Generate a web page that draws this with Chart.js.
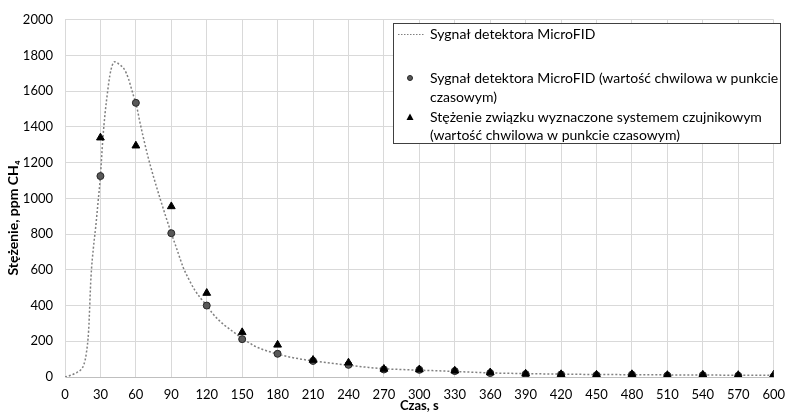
<!DOCTYPE html>
<html>
<head>
<meta charset="utf-8">
<script src="https://cdn.jsdelivr.net/npm/chart.js@4.4.1/dist/chart.umd.min.js"></script>
<style>
  html, body { margin: 0; padding: 0; background: #fff; }
  #wrap { width: 795px; height: 415px; position: relative; }
</style>
</head>
<body>
<div id="wrap"><canvas id="myChart"></canvas></div>
<script>
// time axis (s) for the continuous detector curve
var curveTime = [0, 5, 10, 14, 16, 18, 20, 22, 24, 26, 28, 30, 32, 34, 36, 38, 40, 42, 44, 46, 48, 50,
   52, 54, 56, 58, 60, 63, 66, 70, 75, 80, 85, 90, 95, 100, 105, 110, 115, 120, 125, 130, 135, 140,
   145, 150, 155, 160, 165, 170, 175, 180, 190, 200, 210, 225, 240, 255, 270, 285, 300, 315, 330,
   345, 360, 390, 420, 450, 480, 510, 540, 570, 600];
var curveSignal = [0, 10, 25, 45, 70, 130, 260, 560, 720, 840, 980, 1125, 1330, 1480, 1594, 1690, 1745,
   1765, 1760, 1750, 1740, 1725, 1700, 1665, 1620, 1575, 1535, 1440, 1350, 1240, 1120, 1010, 905, 805,
   710, 615, 545, 485, 440, 400, 355, 320, 290, 265, 240, 215, 195, 175, 160, 148, 138, 128, 112, 100,
   90, 78, 66, 55, 46, 42, 38, 35, 31, 27, 23, 19, 16, 14, 13, 12, 11, 10, 9];

// sampling points every 30 s
var sampleTime = [30, 60, 90, 120, 150, 180, 210, 240, 270, 300, 330, 360, 390, 420, 450, 480, 510, 540, 570, 600];
var detectorPoints = [1125, 1535, 805, 400, 212, 130, 90, 68, 42, 40, 33, 22, 16, 14, 10, 13, 8, 10, 7, 3];
var sensorPoints = [1340, 1295, 955, 470, 250, 180, 95, 80, 45, 42, 35, 25, 18, 15, 12, 15, 10, 12, 10, 13];

var xTicks = [0, 30, 60, 90, 120, 150, 180, 210, 240, 270, 300, 330, 360, 390, 420, 450, 480, 510, 540, 570, 600];

var legendLabels = [
   ['Sygnał detektora MicroFID'],
   ['Sygnał detektora MicroFID (wartość chwilowa w punkcie', 'czasowym)'],
   ['Stężenie związku wyznaczone systemem czujnikowym', '(wartość chwilowa w punkcie czasowym)']
];

var FONT = 'Lato, "Open Sans", sans-serif';

function toXY(xs, ys) {
   var out = [];
   for (var i = 0; i < xs.length; i++) {
      out.push({x: xs[i], y: ys[i]});
   }
   return out;
}

// legend box + axis titles drawn by hand (legend text wraps in the original)
var extras = {
   id: 'extras',
   afterDraw: function(chart) {
      var ctx = chart.ctx;
      var area = chart.chartArea;
      ctx.save();

      // y title
      ctx.fillStyle = '#000';
      ctx.font = 'bold 14px ' + FONT;
      ctx.translate(13, 218);
      ctx.rotate(-Math.PI / 2);
      ctx.textAlign = 'center';
      ctx.textBaseline = 'middle';
      ctx.fillText('Stężenie, ppm CH₄', 0, 0);
      ctx.restore();

      ctx.save();
      ctx.fillStyle = '#000';
      ctx.font = 'bold 13px ' + FONT;
      ctx.textAlign = 'center';
      ctx.textBaseline = 'middle';
      ctx.fillText('Czas, s', (area.left + area.right) / 2, 406);

      // legend box
      var bx = 393.5, by = 23.5, bw = 387, bh = 120;
      ctx.fillStyle = '#fff';
      ctx.fillRect(bx, by, bw, bh);
      ctx.strokeStyle = '#404040';
      ctx.lineWidth = 1;
      ctx.strokeRect(bx, by, bw, bh);

      ctx.font = '14px ' + FONT;
      ctx.textAlign = 'left';
      ctx.fillStyle = '#000';
      var textX = 430;

      // dotted line sample
      ctx.strokeStyle = '#808080';
      ctx.setLineDash([1.5, 1.5]);
      ctx.beginPath();
      ctx.moveTo(398, 34.5);
      ctx.lineTo(424, 34.5);
      ctx.stroke();
      ctx.setLineDash([]);
      ctx.fillText(legendLabels[0][0], textX, 34);

      // circle sample
      ctx.fillStyle = '#595959';
      ctx.strokeStyle = '#262626';
      ctx.beginPath();
      ctx.arc(410, 78, 2.5, 0, Math.PI * 2);
      ctx.fill();
      ctx.stroke();
      ctx.fillStyle = '#000';
      ctx.fillText(legendLabels[1][0], textX, 78);
      ctx.fillText(legendLabels[1][1], textX, 97);

      // triangle sample
      ctx.beginPath();
      ctx.moveTo(410, 113.5);
      ctx.lineTo(413.5, 120);
      ctx.lineTo(406.5, 120);
      ctx.closePath();
      ctx.fill();
      ctx.fillText(legendLabels[2][0], textX, 117);
      ctx.fillText(legendLabels[2][1], textX, 135);

      ctx.restore();
   }
};

var context = document.getElementById('myChart').getContext('2d');
var chart = new Chart(context, {
   type: 'scatter',
   data: {
      datasets: [
         {
            type: 'line',
            label: 'Sygnał detektora MicroFID',
            data: toXY(curveTime, curveSignal),
            borderColor: '#808080',
            borderWidth: 1.5,
            borderDash: [2, 2],
            pointRadius: 0,
            fill: false,
            cubicInterpolationMode: 'monotone',
            order: 3
         },
         {
            label: 'Sygnał detektora MicroFID (wartość chwilowa w punkcie czasowym)',
            data: toXY(sampleTime, detectorPoints),
            pointStyle: 'circle',
            pointRadius: 3.5,
            backgroundColor: '#595959',
            borderColor: '#262626',
            borderWidth: 1,
            order: 2
         },
         {
            label: 'Stężenie związku wyznaczone systemem czujnikowym (wartość chwilowa w punkcie czasowym)',
            data: toXY(sampleTime, sensorPoints),
            pointStyle: 'triangle',
            pointRadius: 4.5,
            backgroundColor: '#000',
            borderColor: '#000',
            borderWidth: 1,
            order: 1
         }
      ]
   },
   options: {
      responsive: true,
      maintainAspectRatio: false,
      animation: false,
      layout: {padding: {left: 0, top: 18, right: 10, bottom: 0}},
      plugins: {
         legend: {display: false},
         tooltip: {enabled: false}
      },
      scales: {
         x: {
            type: 'linear',
            min: 0,
            max: 600,
            afterBuildTicks: function(scale) {
               scale.ticks = xTicks.map(function(v) { return {value: v}; });
            },
            afterFit: function(scale) { scale.height = 38; },
            grid: {color: '#d9d9d9', drawTicks: false},
            border: {color: '#bfbfbf'},
            ticks: {
               color: '#000', padding: 10, maxRotation: 0, autoSkip: false,
               font: {family: FONT, size: 13},
               callback: function(v) { return String(v); }
            }
         },
         y: {
            min: 0,
            max: 2000,
            afterFit: function(scale) { scale.width = 65; },
            grid: {color: '#d9d9d9', drawTicks: false},
            border: {color: '#d9d9d9'},
            ticks: {
               color: '#000', padding: 12, stepSize: 200,
               font: {family: FONT, size: 13},
               callback: function(v) { return String(v); }
            }
         }
      }
   },
   plugins: [extras]
});
</script>
</body>
</html>
